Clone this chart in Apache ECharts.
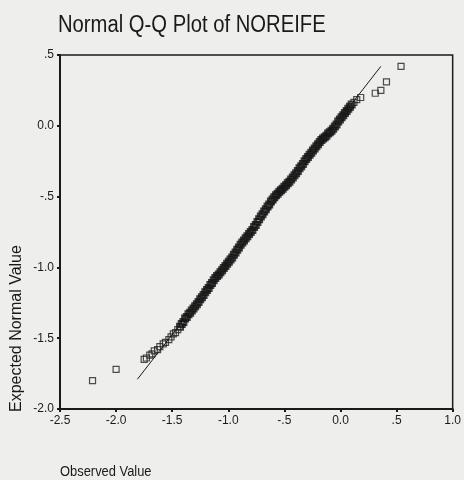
<!DOCTYPE html>
<html>
<head>
<meta charset="utf-8">
<script src="https://cdn.jsdelivr.net/npm/echarts@6/dist/echarts.min.js"></script>
<style>
  html, body { margin: 0; padding: 0; background: #eeeeec; }
  #chart { width: 464px; height: 480px; }
</style>
</head>
<body>
<div id="chart"></div>
<script>
const observed = [
    -2.21, -2.00,
    -1.75, -1.73, -1.70, -1.68, -1.66, -1.63, -1.61, -1.58, -1.56, -1.53, -1.51, -1.49, -1.47, -1.45,
    -1.43, -1.415, -1.40, -1.385, -1.37, -1.355, -1.34, -1.325, -1.31, -1.295,
    -1.28, -1.265, -1.25, -1.235, -1.22, -1.205, -1.19, -1.175, -1.16, -1.145,
    -1.13, -1.115, -1.10, -1.085, -1.07, -1.055, -1.04, -1.025, -1.01, -0.995,
    -0.98, -0.965, -0.95, -0.935, -0.92, -0.905, -0.89, -0.875, -0.86, -0.845,
    -0.83, -0.815, -0.80, -0.785, -0.77, -0.755, -0.74, -0.725, -0.71, -0.695,
    -0.68, -0.665, -0.65, -0.635, -0.62, -0.605, -0.59, -0.575, -0.56, -0.545,
    -0.53, -0.515, -0.50, -0.485, -0.47, -0.455, -0.44, -0.425, -0.41, -0.395,
    -0.38, -0.365, -0.35, -0.335, -0.32, -0.305, -0.29, -0.275, -0.26, -0.245,
    -0.23, -0.215, -0.20, -0.185, -0.17, -0.155, -0.14, -0.125, -0.11, -0.095,
    -0.08, -0.065, -0.05, -0.035, -0.02, -0.005, 0.01, 0.025, 0.04, 0.055,
    0.07, 0.085, 0.10, 0.12, 0.145, 0.18, 0.31, 0.36, 0.41, 0.54
];
const expected = [
    -1.80, -1.72,
    -1.65, -1.64, -1.62, -1.61, -1.59, -1.58, -1.56, -1.54, -1.53, -1.51, -1.49, -1.47, -1.46, -1.44,
    -1.42, -1.40, -1.385, -1.36, -1.35, -1.33, -1.32, -1.305, -1.29, -1.275,
    -1.26, -1.245, -1.225, -1.21, -1.195, -1.175, -1.16, -1.145, -1.125, -1.11,
    -1.09, -1.075, -1.06, -1.05, -1.035, -1.02, -1.005, -0.99, -0.975, -0.96,
    -0.945, -0.93, -0.91, -0.895, -0.875, -0.86, -0.84, -0.825, -0.81, -0.795,
    -0.78, -0.765, -0.75, -0.735, -0.715, -0.70, -0.68, -0.66, -0.64, -0.625,
    -0.605, -0.59, -0.57, -0.555, -0.535, -0.52, -0.505, -0.49, -0.48, -0.465,
    -0.455, -0.445, -0.43, -0.42, -0.405, -0.395, -0.38, -0.365, -0.35, -0.335,
    -0.32, -0.30, -0.285, -0.27, -0.25, -0.235, -0.22, -0.205, -0.19, -0.175,
    -0.16, -0.145, -0.13, -0.115, -0.10, -0.09, -0.08, -0.07, -0.055, -0.045,
    -0.035, -0.02, -0.005, 0.01, 0.03, 0.045, 0.06, 0.075, 0.09, 0.105,
    0.12, 0.135, 0.15, 0.165, 0.185, 0.20, 0.23, 0.25, 0.31, 0.42
];
// reference line end points
const refLine = [[-1.81, -1.79], [0.36, 0.42]];

const xTicks = ['-2.5', '-2.0', '-1.5', '-1.0', '-.5', '0.0', '.5', '1.0'];
const yTicks = ['-2.0', '-1.5', '-1.0', '-.5', '0.0', '.5'];

const font = '"Liberation Sans", Arial, sans-serif';
const ink = '#1a1a1a';

function tickLabel(ticks, min) {
    return v => ticks[Math.round((v - min) / 0.5)] || '';
}

// where the squares pile up into a solid band, draw them heavier
function pointStyle(x) {
    const dense = x > -1.44 && x < 0.11;
    return { borderWidth: dense ? 2 : 1.2, borderColor: dense ? '#111' : '#222' };
}

const chart = echarts.init(document.getElementById('chart'));
chart.setOption({
    backgroundColor: '#eeeeec',
    animation: false,
    graphic: [
        {
            type: 'text',
            x: 58,
            y: 26,
            scaleX: 0.88,
            style: { text: 'Normal Q-Q Plot of NOREIFE', font: '23px ' + font, fill: ink, verticalAlign: 'middle' }
        },
        {
            type: 'text',
            x: 60,
            y: 472,
            scaleX: 0.86,
            style: { text: 'Observed Value', font: '15px ' + font, fill: ink, verticalAlign: 'middle' }
        },
        {
            type: 'text',
            x: 17,
            y: 412,
            rotation: Math.PI / 2,
            style: { text: 'Expected Normal Value', font: '16px ' + font, fill: ink, align: 'left', verticalAlign: 'middle' }
        }
    ],
    grid: {
        left: 60, right: 9, top: 55, bottom: 71,
        show: true, borderColor: ink, borderWidth: 1.5, backgroundColor: 'transparent'
    },
    xAxis: {
        type: 'value', min: -2.5, max: 1.0, interval: 0.5,
        splitLine: { show: false },
        axisLine: { onZero: false, lineStyle: { color: ink, width: 2 } },
        axisTick: { length: 3, lineStyle: { color: ink, width: 2 } },
        axisLabel: { formatter: tickLabel(xTicks, -2.5), color: ink, fontFamily: font, fontSize: 12, margin: 6 }
    },
    yAxis: {
        type: 'value', min: -2.0, max: 0.5, interval: 0.5,
        splitLine: { show: false },
        axisLine: { onZero: false, lineStyle: { color: ink, width: 2 } },
        axisTick: { length: 3, lineStyle: { color: ink, width: 2 } },
        axisLabel: { formatter: tickLabel(yTicks, -2.0), color: ink, fontFamily: font, fontSize: 12, margin: 6 }
    },
    series: [
        {
            type: 'line',
            data: refLine,
            symbol: 'none',
            lineStyle: { color: ink, width: 1 },
            silent: true
        },
        {
            type: 'scatter',
            data: observed.map((x, i) => ({ value: [x, expected[i]], itemStyle: pointStyle(x) })),
            symbol: 'rect',
            symbolSize: 6,
            itemStyle: { color: 'rgba(0,0,0,0)' }
        }
    ]
});
</script>
</body>
</html>
